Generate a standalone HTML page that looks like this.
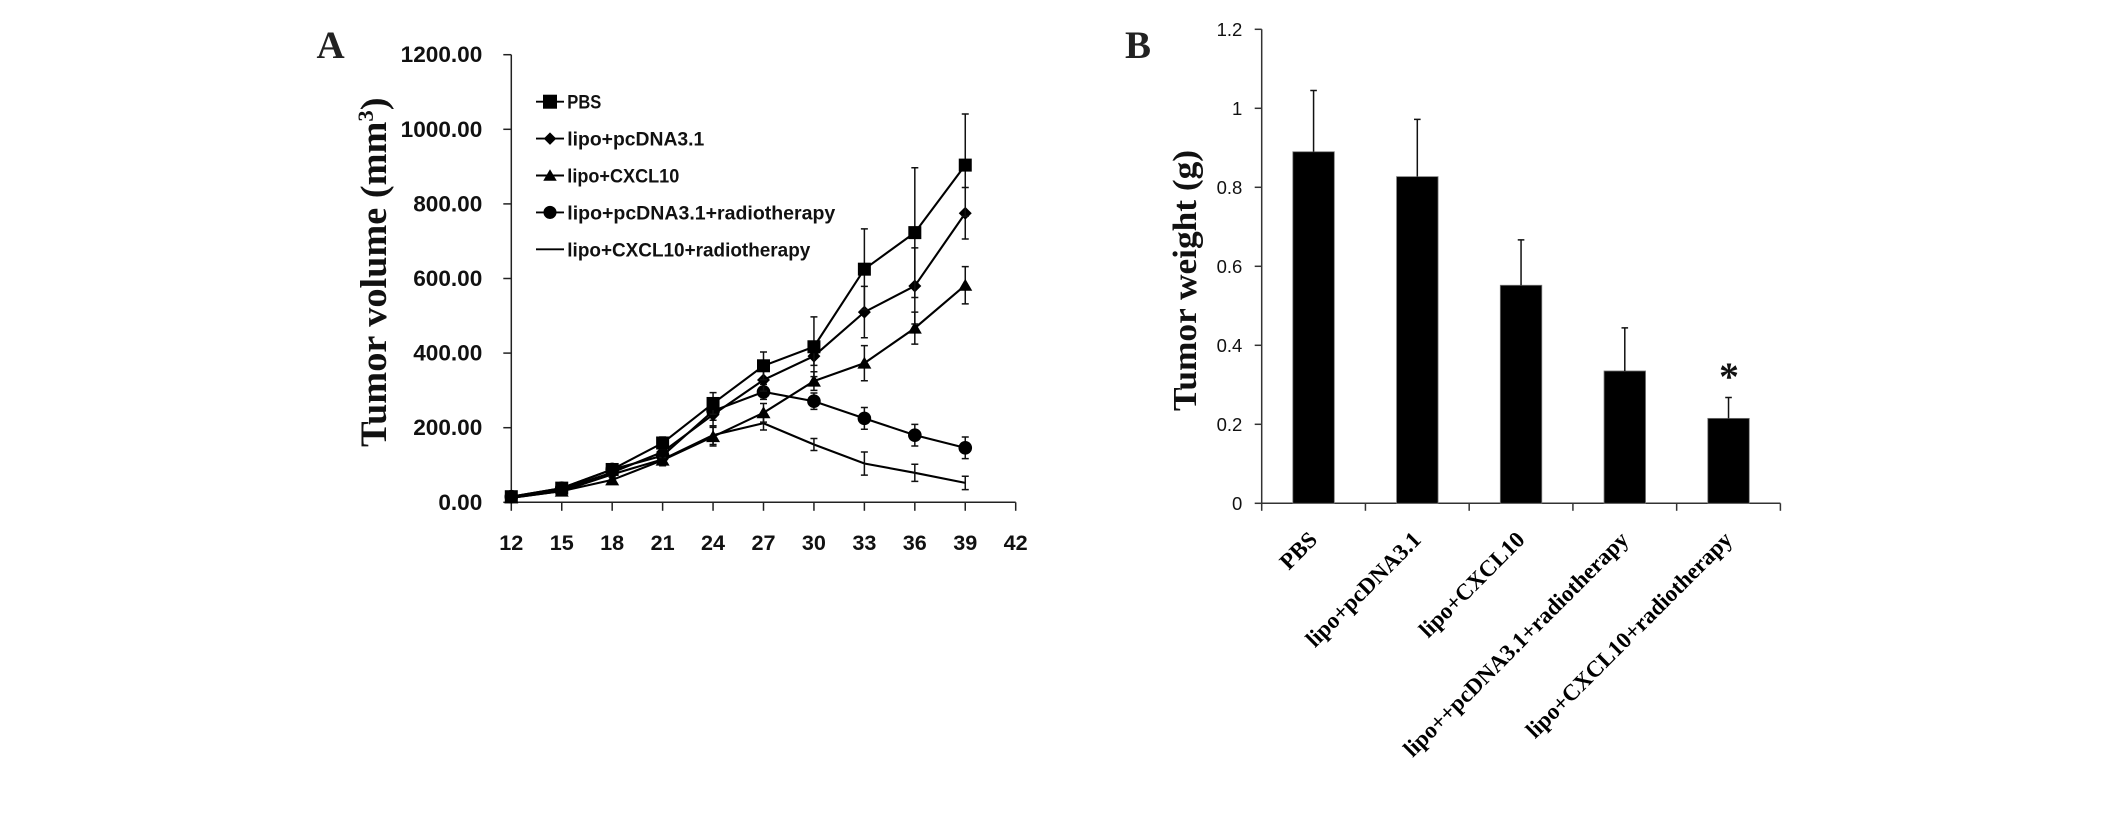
<!DOCTYPE html>
<html lang="en">
<head>
<meta charset="utf-8">
<title>Tumor volume and tumor weight</title>
<style>
  html, body { margin: 0; padding: 0; background: #fff; }
  body { width: 2126px; height: 825px; overflow: hidden; }
  svg { display: block; }
  .panel { font-family: "Liberation Serif", serif; font-weight: bold; fill: #222; font-size: 39px; }
  .ytitle { font-family: "Liberation Serif", serif; font-weight: bold; fill: #111; font-size: 37px; }
  .ticka { font-family: "Liberation Sans", sans-serif; font-weight: bold; fill: #111; }
  .legend { font-family: "Liberation Sans", sans-serif; font-weight: bold; fill: #111; font-size: 19.5px; }
  .tickb { font-family: "Liberation Sans", sans-serif; fill: #111; font-size: 18.5px; }
  .catb { font-family: "Liberation Serif", serif; font-weight: bold; fill: #000; font-size: 23px; }
  .star { font-family: "Liberation Serif", serif; font-weight: bold; fill: #111; font-size: 40px; }
</style>
</head>
<body>
<svg id="fig" xmlns="http://www.w3.org/2000/svg" width="2126" height="825" viewBox="0 0 2126 825">
  <rect width="2126" height="825" fill="#fff"/>
  <text class="panel" x="316.5" y="58">A</text>
  <text class="panel" x="1125" y="58">B</text>
  <text class="ytitle" transform="translate(386 447) rotate(-90) scale(1.035 1)">Tumor volume (mm<tspan font-size="22" dy="-13">3</tspan><tspan dy="13">)</tspan></text>
  <text class="ytitle" transform="translate(1196 411) rotate(-90) scale(1.055 1)" style="font-size:33.5px">Tumor weight (g)</text>
  <text class="star" x="1729" y="390" text-anchor="middle">*</text>
</svg>
<script>
// ---- Panel A data ----
const days = [12, 15, 18, 21, 24, 27, 30, 33, 36, 39];
const xTickLabelsA = [12, 15, 18, 21, 24, 27, 30, 33, 36, 39, 42];
const yTickLabelsA = ['0.00', '200.00', '400.00', '600.00', '800.00', '1000.00', '1200.00'];
const yTickValuesA = [0, 200, 400, 600, 800, 1000, 1200];

const pbsValues    = [15, 38, 88, 159, 265, 366, 417, 625, 723, 904];
const pbsErrors    = [4, 6, 12, 16, 29, 37, 80, 108, 174, 137];
const pcdnaValues  = [15, 35, 80, 135, 235, 328, 392, 510, 580, 775];
const pcdnaErrors  = [4, 6, 10, 15, 30, 30, 25, 69, 102, 69];
const cxclValues   = [12, 30, 60, 113, 176, 240, 325, 373, 467, 582];
const cxclErrors   = [3, 5, 8, 15, 25, 25, 25, 47, 43, 50];
const pcRtValues   = [15, 38, 88, 125, 245, 296, 271, 225, 180, 146];
const pcRtErrors   = [4, 6, 10, 14, 25, 20, 22, 29, 29, 29];
const cxclRtValues = [12, 30, 75, 115, 180, 212, 155, 104, 79, 52];
const cxclRtErrors = [3, 5, 8, 12, 25, 18, 16, 31, 23, 18];

const legendLabels = ['PBS', 'lipo+pcDNA3.1', 'lipo+CXCL10', 'lipo+pcDNA3.1+radiotherapy', 'lipo+CXCL10+radiotherapy'];
const legendKeys = ['pbs', 'pcdna', 'cxcl', 'pc-rt', 'cxcl-rt'];
const legendShapes = ['square', 'diamond', 'triangle', 'circle', 'none'];

// ---- Panel B data ----
const groups = ['PBS', 'lipo+pcDNA3.1', 'lipo+CXCL10', 'lipo++pcDNA3.1+radiotherapy', 'lipo+CXCL10+radiotherapy'];
const weights = [0.89, 0.827, 0.552, 0.335, 0.215];
const weightErrors = [0.155, 0.145, 0.115, 0.109, 0.053];
const yTickLabelsB = ['0', '0.2', '0.4', '0.6', '0.8', '1', '1.2'];
const yTickValuesB = [0, 0.2, 0.4, 0.6, 0.8, 1, 1.2];

// ---- Layout only: fitted legend label widths in pixels ----
const legendFit = {pbs: 34, pcdna: 137, cxcl: 112, 'pc-rt': 268, 'cxcl-rt': 243};

// ---- Axis functions ----
const xA = d => 511.3 + (d - 12) * 50.44 / 3;
const yA = v => 502.3 - v * 447.6 / 1200;
const catStepB = 103.74;
const xB = i => 1261.7 + catStepB * i;
const yB = v => 503.3 - v * 395;

const NS = 'http://www.w3.org/2000/svg';
const fig = document.getElementById('fig');
function make(tag, attrs, parent) {
  const el = document.createElementNS(NS, tag);
  for (const k in attrs) el.setAttribute(k, attrs[k]);
  parent.appendChild(el);
  return el;
}
function drawMarker(shape, cx, cy, size, parent) {
  const h = size / 2;
  let m = null;
  if (shape === 'square') m = make('rect', {x: cx - h, y: cy - h, width: size, height: size, fill: '#000'}, parent);
  if (shape === 'diamond') m = make('polygon', {points: [cx, cy - h, cx + h, cy, cx, cy + h, cx - h, cy].join(' '), fill: '#000'}, parent);
  if (shape === 'triangle') m = make('polygon', {points: [cx, cy - h, cx + h + 0.5, cy + h - 1, cx - h - 0.5, cy + h - 1].join(' '), fill: '#000'}, parent);
  if (shape === 'circle') m = make('circle', {cx: cx, cy: cy, r: h + 0.3, fill: '#000'}, parent);
  return m;
}

// ---- Panel A axes ----
const axesA = make('g', {stroke: '#222', 'stroke-width': 1.5, fill: 'none'}, fig);


const yLineA = make('line', {x1: xA(12), x2: xA(12), y1: yA(1200), y2: yA(0)}, axesA);


const xLineA = make('line', {x1: xA(12), x2: xA(42), y1: yA(0), y2: yA(0)}, axesA);



yTickValuesA.forEach((v, i) => {
  const t = make('line', {x1: xA(12) - 8, x2: xA(12), y1: yA(v), y2: yA(v)}, axesA);
  
  
  const l = make('text', {x: 482.3, y: yA(v) + 7.5, 'text-anchor': 'end', class: 'ticka', 'font-size': 22.6}, fig);
  
  
  l.textContent = yTickLabelsA[i];
});
xTickLabelsA.forEach(d => {
  const t = make('line', {x1: xA(d), x2: xA(d), y1: yA(0), y2: yA(0) + 8.5}, axesA);
  
  
  const l = make('text', {x: xA(d), y: 550, 'text-anchor': 'middle', class: 'ticka', 'font-size': 21.6}, fig);
  
  
  l.textContent = d;
});

// ---- Panel A series ----
function drawSeries(key, values, errors, shape) {
  const g = make('g', {}, fig);
  
  
  const pts = values.map((v, i) => xA(days[i]) + ',' + yA(v)).join(' ');
  const pl = make('polyline', {points: pts, fill: 'none', stroke: '#000', 'stroke-width': 2.1}, g);
  
  
  values.forEach((v, i) => {
    const x = xA(days[i]);
    const hi = yA(v + errors[i]);
    const lo = yA(v - errors[i]);
    const e = make('path', {d: `M${x} ${hi}V${lo}M${x - 3.5} ${hi}H${x + 3.5}M${x - 3.5} ${lo}H${x + 3.5}`, stroke: '#111', 'stroke-width': 1.5, fill: 'none'}, g);
    
    
    const m = drawMarker(shape, x, yA(v), 13, g);
    if (m) {
      
      
    }
  });
}
drawSeries('cxcl-rt', cxclRtValues, cxclRtErrors, 'none');
drawSeries('pc-rt', pcRtValues, pcRtErrors, 'circle');
drawSeries('cxcl', cxclValues, cxclErrors, 'triangle');
drawSeries('pcdna', pcdnaValues, pcdnaErrors, 'diamond');
drawSeries('pbs', pbsValues, pbsErrors, 'square');

// ---- Legend ----
const legendRowCenter = i => 101.7 + i * 36.9;
legendLabels.forEach((label, i) => {
  const g = make('g', {}, fig);
  
  
  const cy = legendRowCenter(i);
  const ln = make('line', {x1: 536, x2: 564, y1: cy, y2: cy, stroke: '#000', 'stroke-width': 1.9}, g);
  
  
  const m = drawMarker(legendShapes[i], 550, cy, legendShapes[i] === 'square' ? 14 : 12.5, g);
  if (m) {
    
    
  }
  const t = make('text', {x: 567.3, y: cy + 7, class: 'legend', textLength: legendFit[legendKeys[i]], lengthAdjust: 'spacingAndGlyphs'}, g);
  
  
  t.textContent = label;
});

// ---- Panel B axes ----
const axesB = make('g', {stroke: '#333', 'stroke-width': 1.5, fill: 'none'}, fig);



// ---- Panel B bars ----
const barWidth = 41.5;
weights.forEach((v, i) => {
  const cx = xB(i + 0.5);
  const b = make('rect', {x: cx - barWidth / 2, y: yB(v), width: barWidth, height: yB(0) - yB(v), fill: '#000', stroke: '#777', 'stroke-width': 0.8}, fig);
  
  
  const top = yB(v + weightErrors[i]);
  const e = make('path', {d: `M${cx} ${yB(v)}V${top}M${cx - 3.3} ${top}H${cx + 3.3}`, stroke: '#111', 'stroke-width': 1.5, fill: 'none'}, fig);
  
  
  const t = make('text', {class: 'catb', 'text-anchor': 'end', transform: `translate(${cx + 5} 541) rotate(-45)`}, fig);
  
  
  t.textContent = groups[i];
});

const yLineB = make('line', {x1: xB(0), x2: xB(0), y1: yB(1.2), y2: yB(0)}, axesB);


const xLineB = make('line', {x1: xB(0), x2: xB(groups.length), y1: yB(0), y2: yB(0)}, axesB);


yTickValuesB.forEach((v, i) => {
  const t = make('line', {x1: xB(0) - 7, x2: xB(0), y1: yB(v), y2: yB(v)}, axesB);
  
  
  const l = make('text', {x: 1242.3, y: yB(v) + 6.6, 'text-anchor': 'end', class: 'tickb'}, fig);
  
  
  l.textContent = yTickLabelsB[i];
});
for (let i = 0; i <= groups.length; i++) {
  const t = make('line', {x1: xB(i), x2: xB(i), y1: yB(0), y2: yB(0) + 7.5}, axesB);
  
  
}
</script>
</body>
</html>
